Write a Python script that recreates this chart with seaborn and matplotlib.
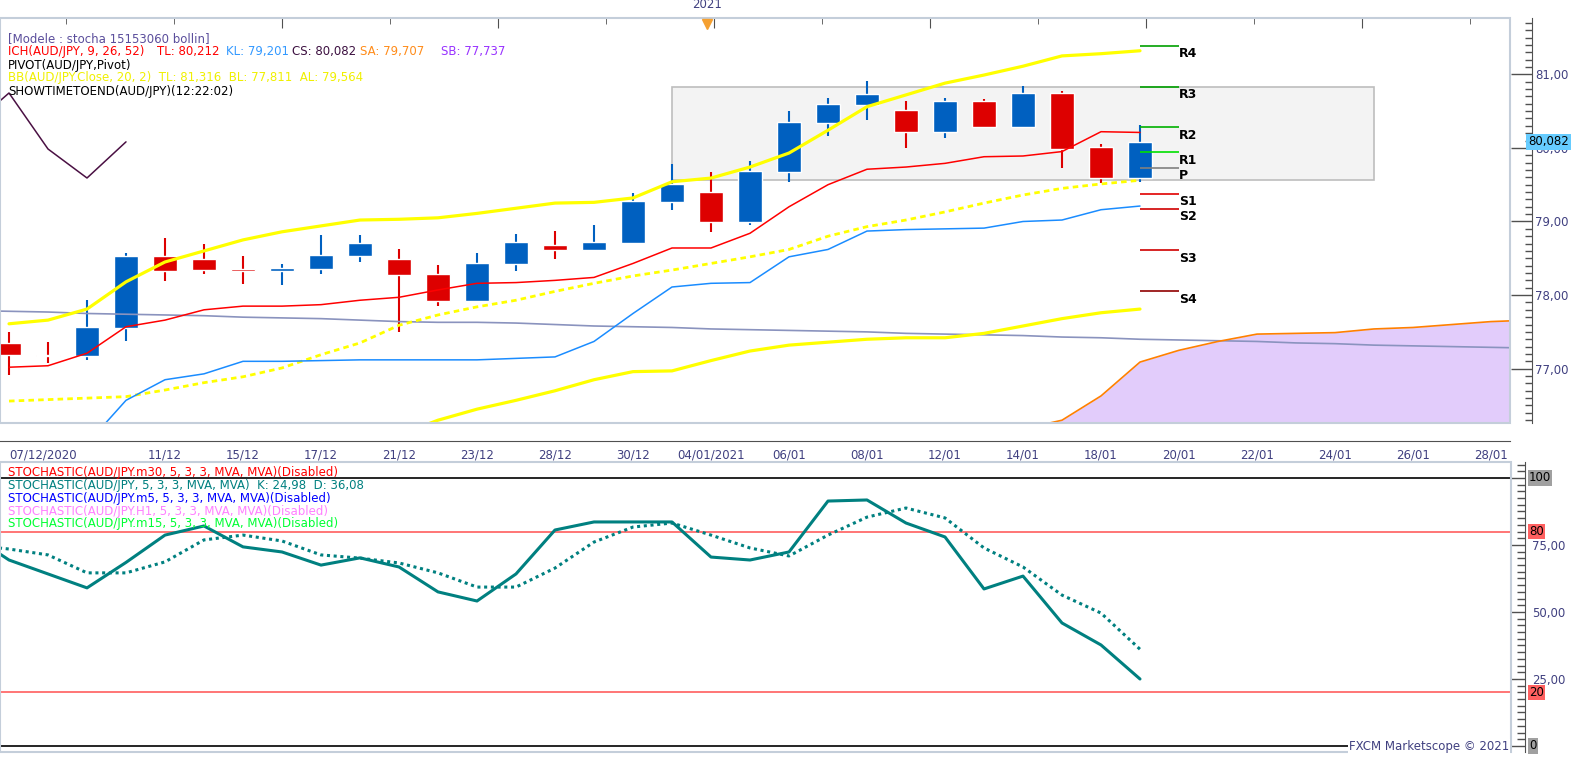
import numpy as np
import pandas as pd
import matplotlib
matplotlib.use("Agg")
import matplotlib.pyplot as plt
import matplotlib.ticker as mticker
import matplotlib.transforms as mtransforms
from matplotlib.patches import Rectangle
import seaborn as sns

W, H = 1583, 760

# ---------------- data ----------------
day_labels = ["07/12/2020", "08/12", "09/12", "10/12", "11/12", "14/12", "15/12",
              "16/12", "17/12", "18/12", "21/12", "22/12", "23/12", "24/12",
              "28/12", "29/12", "30/12", "31/12", "04/01/2021", "05/01", "06/01",
              "07/01", "08/01", "11/01", "12/01", "13/01", "14/01", "15/01",
              "18/01", "19/01", "20/01", "21/01", "22/01", "23/01", "24/01",
              "25/01", "26/01", "27/01", "28/01"]
date_tick_idx = [0, 4, 6, 8, 10, 12, 14, 16, 18, 20, 22, 24, 26, 28, 30, 32, 34, 36, 38]

opens = [77.349, 77.190, 77.173, 77.553, 78.531, 78.490, 78.355, 78.328, 78.355, 78.531,
         78.490, 78.287, 77.920, 78.423, 78.680, 78.610, 78.708, 79.265, 79.401, 78.993,
         79.673, 80.338, 80.583, 80.515, 80.216, 80.637, 80.284, 80.746, 80.012, 79.591]
highs = [77.499, 77.363, 77.933, 78.572, 78.776, 78.694, 78.531, 78.423, 78.817, 78.817,
         78.626, 78.410, 78.572, 78.830, 78.870, 78.952, 79.387, 79.781, 79.673, 79.822,
         80.501, 80.678, 80.909, 80.637, 80.678, 80.664, 80.841, 80.773, 80.053, 80.311]
lows = [76.914, 77.080, 77.118, 77.381, 78.192, 78.287, 78.150, 78.137, 78.287, 78.449,
        77.499, 77.850, 77.910, 78.328, 78.490, 78.600, 78.694, 79.156, 78.857, 78.952,
        79.537, 80.162, 80.379, 79.999, 80.135, 80.270, 80.284, 79.727, 79.523, 79.537]
closes = [77.186, 77.170, 77.567, 78.531, 78.328, 78.341, 78.328, 78.368, 78.545, 78.708,
          78.273, 77.920, 78.436, 78.720, 78.610, 78.720, 79.279, 79.510, 78.993, 79.686,
          80.352, 80.596, 80.732, 80.216, 80.637, 80.284, 80.746, 79.985, 79.591, 80.082]

tenkan = [77.02, 77.04, 77.21, 77.57, 77.66, 77.80, 77.85, 77.85, 77.87, 77.93,
          77.97, 78.07, 78.16, 78.17, 78.20, 78.24, 78.43, 78.64, 78.64, 78.84,
          79.20, 79.50, 79.71, 79.74, 79.79, 79.88, 79.89, 79.95, 80.22, 80.21]
kijun = [np.nan, np.nan, 75.98, 76.57, 76.85, 76.93, 77.10, 77.10, 77.11, 77.12,
         77.12, 77.12, 77.12, 77.14, 77.16, 77.37, 77.75, 78.11, 78.16, 78.17,
         78.52, 78.62, 78.87, 78.89, 78.90, 78.91, 79.00, 79.02, 79.16, 79.21]
bb_upper = [77.61, 77.66, 77.81, 78.18, 78.45, 78.60, 78.75, 78.86, 78.94, 79.02,
            79.03, 79.05, 79.11, 79.18, 79.25, 79.26, 79.32, 79.54, 79.59, 79.74,
            79.93, 80.24, 80.56, 80.72, 80.88, 80.99, 81.11, 81.25, 81.28, 81.32]
bb_mid = [76.56, 76.58, 76.60, 76.62, 76.71, 76.81, 76.89, 77.01, 77.19, 77.35,
          77.59, 77.73, 77.84, 77.93, 78.05, 78.16, 78.26, 78.34, 78.43, 78.52,
          78.62, 78.80, 78.93, 79.02, 79.13, 79.25, 79.36, 79.45, 79.51, 79.56]
bb_lower = [np.nan] * 10 + [76.10, 76.30, 76.45, 76.57, 76.70, 76.85, 76.96, 76.97, 77.11, 77.24,
                            77.32, 77.36, 77.40, 77.42, 77.42, 77.48, 77.58, 77.68, 77.76, 77.81]

cloud_idx = list(range(26, 40))
span_a = [76.18, 76.30, 76.63, 77.09, 77.25, 77.37, 77.47, 77.48, 77.49, 77.54,
          77.56, 77.60, 77.64, 77.66]

slate_idx = list(range(-1, 40))
slate = [77.79, 77.78, 77.77, 77.75, 77.74, 77.73, 77.72, 77.70, 77.69, 77.68,
         77.66, 77.64, 77.63, 77.63, 77.62, 77.60, 77.58, 77.57, 77.56, 77.54,
         77.53, 77.52, 77.51, 77.50, 77.48, 77.47, 77.46, 77.45, 77.43, 77.42,
         77.40, 77.39, 77.38, 77.37, 77.35, 77.34, 77.32, 77.31, 77.30, 77.29, 77.28]

pivot_names = ["R4", "R3", "R2", "R1", "P", "S1", "S2", "S3", "S4"]
pivot_vals = [81.39, 80.83, 80.28, 79.94, 79.73, 79.38, 79.17, 78.61, 78.05]
pivot_cols = ["#00A000", "#00A000", "#00B000", "#00E000", "#808080",
              "#E00000", "#D00000", "#D00000", "#900000"]

range_box = dict(x0=17, x1=35, lo=79.57, hi=80.83)

stoch_idx = list(range(-1, 30))
stoch_k = [79.0, 69.4, 64.2, 59.0, 68.5, 78.7, 82.1, 74.3, 72.4, 67.5, 70.2,
           66.8, 57.5, 54.1, 64.2, 80.6, 83.6, 83.6, 83.6, 70.5, 69.4,
           72.4, 91.4, 91.8, 83.2, 78.0, 58.6, 63.4, 45.9, 37.7, 25.0]
stoch_d = [75.0, 73.5, 71.3, 64.6, 64.6, 68.7, 76.9, 78.7, 76.5, 71.3, 70.1,
           68.3, 64.6, 59.3, 59.3, 66.4, 76.1, 81.7, 83.2, 78.7, 73.9,
           70.9, 78.7, 85.4, 88.8, 85.1, 73.9, 66.8, 56.3, 49.6, 36.1]

last_price = 80.082
year_mark = 17.9

# ---------------- styling ----------------
sns.set_style("white")
plt.rcParams["font.family"] = ["DejaVu Sans"]
plt.rcParams["font.size"] = 8.5

AXIS = "#505050"
LABEL = "#404080"
FRAME = "#C4CEDA"

fig = plt.figure(figsize=(W / 100, H / 100), dpi=100)


def fx(px):
    return px / W


def fy(py):
    return 1 - py / H


ax = fig.add_axes([0, fy(423), fx(1510), (423 - 18) / H])
ax2 = fig.add_axes([0, fy(752), fx(1511), (752 - 462) / H])

bars = pd.DataFrame({"i": np.arange(len(opens)), "open": opens, "high": highs,
                     "low": lows, "close": closes})
bars["up"] = bars["close"] >= bars["open"]
colors = np.where(bars["up"], "#0060C0", "#DD0000")

# range box + cloud
ax.add_patch(Rectangle((range_box["x0"], range_box["lo"]),
                       range_box["x1"] - range_box["x0"],
                       range_box["hi"] - range_box["lo"],
                       fc="#F3F3F3", ec="#BDBDBD", lw=1.2, zorder=0.5))
ax.fill_between(cloud_idx, span_a, 75.0, color="#E2CCFB", lw=0, zorder=0.6)

# candles
body_lo = np.minimum(bars["open"], bars["close"])
body_h = np.maximum((bars["close"] - bars["open"]).abs(), 0.02)
ax.vlines(bars["i"], bars["low"], bars["high"], colors=colors, lw=1.5, zorder=2)
ax.bar(bars["i"], body_h, bottom=body_lo, width=0.62, color=colors, zorder=2.5)

# indicator lines
sns.lineplot(x=slate_idx, y=slate, ax=ax, color="#8A93BE", lw=1.2, zorder=3)
sns.lineplot(x=cloud_idx, y=span_a, ax=ax, color="#FF8000", lw=1.2, zorder=3)
sns.lineplot(x=bars["i"], y=bb_lower, ax=ax, color="#FFFF00", lw=2.3, zorder=3)
sns.lineplot(x=bars["i"], y=bb_mid, ax=ax, color="#FFFF00", lw=2.0,
             linestyle=(0, (2, 1.5)), zorder=3)
sns.lineplot(x=bars["i"], y=bb_upper, ax=ax, color="#FFFF00", lw=2.3, zorder=3)
sns.lineplot(x=bars["i"], y=kijun, ax=ax, color="#1A8CFF", lw=1.1, zorder=3.2)
sns.lineplot(x=bars["i"], y=tenkan, ax=ax, color="#FF0000", lw=1.1, zorder=3.2)
chikou_x = bars["i"].iloc[25:] - 26
sns.lineplot(x=chikou_x, y=bars["close"].iloc[25:], ax=ax, color="#4A1043", lw=1.1, zorder=3.2)

# pivots
ax.hlines(pivot_vals, 29, 30, colors=pivot_cols, lw=1.2, zorder=4)
for name, v in zip(pivot_names, pivot_vals):
    ax.annotate(name, xy=(30, v), xytext=(0, -1), textcoords="offset points",
                ha="left", va="top", fontsize=9, fontweight="bold", color="black")

ax.set_xlim(-9 / 39, (1510 - 9) / 39)
ax.set_ylim(76.262, 81.765)

# right price axis
for s in ["left", "top", "bottom", "right"]:
    ax.spines[s].set_visible(False)
ax.spines["right"].set_visible(True)
ax.spines["right"].set_position(("outward", 16))
ax.spines["right"].set_color(AXIS)
ax.spines["bottom"].set_visible(True)
ax.spines["bottom"].set_position(("outward", 13))
ax.spines["bottom"].set_color(AXIS)
ax.yaxis.tick_right()
ax.set_yticks([77, 78, 79, 80, 81])
ax.set_yticklabels([f"{v:.2f}".replace(".", ",") for v in [77, 78, 79, 80, 81]])
ax.yaxis.set_minor_locator(mticker.MultipleLocator(0.1))
ax.tick_params(axis="y", which="major", direction="in", length=15, width=1,
               color=AXIS, labelcolor=LABEL, pad=2, labelsize=8.5)
ax.tick_params(axis="y", which="minor", direction="in", length=5, width=1, color=AXIS)
ax.set_xticks(date_tick_idx)
ax.set_xticklabels([day_labels[i] for i in date_tick_idx])
ax.get_xticklabels()[0].set_ha("left")
ax.xaxis.set_minor_locator(mticker.MultipleLocator(0.25))
ax.tick_params(axis="x", which="major", direction="in", length=13, width=1,
               color=AXIS, labelcolor=LABEL, pad=5, labelsize=8.5)
ax.tick_params(axis="x", which="minor", direction="in", length=5, width=1, color=AXIS)
ax.set_xlabel("")
ax.set_ylabel("")
ax.add_patch(Rectangle((0, 0), 1, 1, transform=ax.transAxes, fill=False,
                       ec=FRAME, lw=1.5, clip_on=False, zorder=5))

# top time axis
sec = ax.secondary_xaxis("top")
sec.set_xticks(np.arange(7.0, 39, 5.54))
sec.xaxis.set_minor_locator(mticker.FixedLocator(np.arange(1.46, 39, 2.77)))
sec.tick_params(which="major", direction="in", length=7, color=AXIS, labeltop=False)
sec.tick_params(which="minor", direction="in", length=4, color=AXIS)
sec.spines["top"].set_color(AXIS)
sec.spines["top"].set_linewidth(1.3)

blend = mtransforms.blended_transform_factory(ax.transData, ax.transAxes)
ax.annotate("2021", xy=(year_mark, 1), xycoords=blend, xytext=(0, 5),
            textcoords="offset points", ha="center", va="bottom", color=LABEL,
            fontsize=8.5, annotation_clip=False)
ax.plot([year_mark], [0.985], marker="v", ms=7, color="#F5A030", transform=blend,
        clip_on=False, zorder=6)

ax.annotate(f"{last_price:.3f}".replace(".", ","), xy=(1, last_price),
            xycoords=("axes fraction", "data"), xytext=(13, 0),
            textcoords="offset points", ha="left", va="center", color="black",
            fontsize=8.5, annotation_clip=False, zorder=10,
            bbox=dict(boxstyle="square,pad=0.15", fc="#66CCFF", ec="none"))

# legend texts upper panel
fig.text(fx(8), fy(39), "[Modele : stocha 15153060 bollin]", color="#5B4E9C", va="center")
ich_parts = [(8, "ICH(AUD/JPY, 9, 26, 52)", "#FF0000"), (157, "TL: 80,212", "#FF0000"),
             (226, "KL: 79,201", "#3399FF"), (292, "CS: 80,082", "#3C1040"),
             (360, "SA: 79,707", "#FF8C1A"), (441, "SB: 77,737", "#9933FF")]
for px, txt, col in ich_parts:
    fig.text(fx(px), fy(52), txt, color=col, va="center")
fig.text(fx(8), fy(65), "PIVOT(AUD/JPY,Pivot)", color="black", va="center")
fig.text(fx(8), fy(78), "BB(AUD/JPY.Close, 20, 2)  TL: 81,316  BL: 77,811  AL: 79,564",
         color="#F0F000", va="center")
fig.text(fx(8), fy(91), "SHOWTIMETOEND(AUD/JPY)(12:22:02)", color="black", va="center")

# ---------------- stochastic panel ----------------
ax2.axhline(100, color="black", lw=1.2, zorder=1)
ax2.axhline(0, color="black", lw=1.2, zorder=1)
ax2.axhline(80, color="#FF5050", lw=1.1, zorder=1)
ax2.axhline(20, color="#FF5050", lw=1.1, zorder=1)
sns.lineplot(x=stoch_idx, y=stoch_d, ax=ax2, color="#008080", lw=2.2,
             linestyle=(0, (1, 1.2)), zorder=3)
sns.lineplot(x=stoch_idx, y=stoch_k, ax=ax2, color="#008080", lw=2.2, zorder=3)
ax2.set_xlim(-9 / 39, (1511 - 9) / 39)
ax2.set_ylim(-2.24, 105.97)
for s in ["left", "top", "bottom"]:
    ax2.spines[s].set_visible(False)
ax2.spines["right"].set_position(("outward", 10))
ax2.spines["right"].set_color(AXIS)
ax2.yaxis.tick_right()
ax2.set_yticks([0, 25, 50, 75, 100])
ax2.set_yticklabels(["", "25,00", "50,00", "75,00", ""])
ax2.yaxis.set_minor_locator(mticker.MultipleLocator(2.5))
ax2.tick_params(axis="y", which="major", direction="in", length=10, width=1,
                color=AXIS, labelcolor=LABEL, pad=5, labelsize=8.5)
ax2.tick_params(axis="y", which="minor", direction="in", length=6, width=1, color=AXIS)
ax2.set_xticks([])
ax2.set_xlabel("")
ax2.set_ylabel("")
ax2.add_patch(Rectangle((0, 0), 1, 1, transform=ax2.transAxes, fill=False,
                        ec=FRAME, lw=1.5, clip_on=False, zorder=5))
for v, txt, bg in [(100, "100", "#A0A0A0"), (80, "80", "#FF6060"),
                   (20, "20", "#FF6060"), (0, "0", "#A0A0A0")]:
    ax2.annotate(txt, xy=(1, v), xycoords=("axes fraction", "data"), xytext=(13, 0),
                 textcoords="offset points", ha="left", va="center", color="black",
                 fontsize=8.5, annotation_clip=False,
                 bbox=dict(boxstyle="square,pad=0.1", fc=bg, ec="none"))

stoch_legend = [("STOCHASTIC(AUD/JPY.m30, 5, 3, 3, MVA, MVA)(Disabled)", "#FF0000"),
                ("STOCHASTIC(AUD/JPY, 5, 3, 3, MVA, MVA)  K: 24,98  D: 36,08", "#008080"),
                ("STOCHASTIC(AUD/JPY.m5, 5, 3, 3, MVA, MVA)(Disabled)", "#0000FF"),
                ("STOCHASTIC(AUD/JPY.H1, 5, 3, 3, MVA, MVA)(Disabled)", "#FF80FF"),
                ("STOCHASTIC(AUD/JPY.m15, 5, 3, 3, MVA, MVA)(Disabled)", "#00FF33")]
for k, (txt, col) in enumerate(stoch_legend):
    fig.text(fx(8), fy(472 + 13 * k), txt, color=col, va="center")

fig.text(fx(1509), fy(753), "FXCM Marketscope \u00a9 2021", ha="right", va="bottom",
         color=LABEL, fontsize=8.5,
         bbox=dict(boxstyle="square,pad=0.1", fc="white", ec="none"))

fig.savefig("out.png", dpi=100)
